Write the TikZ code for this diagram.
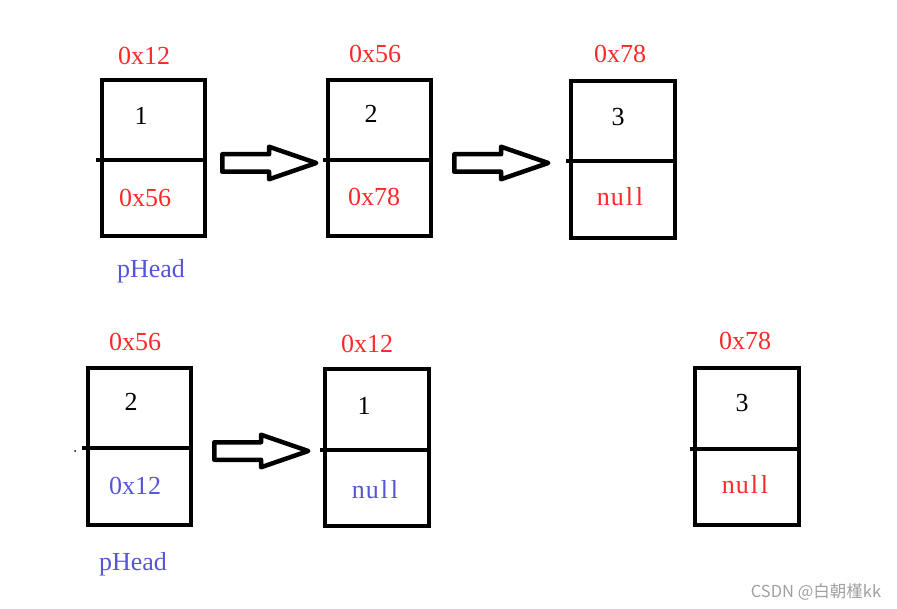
\documentclass[tikz,border=0pt]{standalone}
\usepackage{fontspec}
\setmainfont{Liberation Serif}
\newfontfamily\cjk{Noto Sans CJK SC}
\usetikzlibrary{shapes.arrows}
\definecolor{addrred}{RGB}{255,40,40}
\definecolor{headblue}{RGB}{85,85,215}
\definecolor{wmgray}{RGB}{160,160,160}
\begin{document}
\begin{tikzpicture}[x=1pt,y=-1pt,
  cell/.style={draw,line width=4.5pt,minimum width=#1,inner sep=0pt},
  txt/.style={anchor=base,inner sep=0pt,font=\fontsize{26}{26}\selectfont},
  addr/.style={txt,text=addrred},
  hd/.style={txt,text=headblue},
  blockarrow/.style={draw,line width=4.5pt,line join=round,single arrow,
    minimum height=94pt,minimum width=28pt,inner xsep=0pt,inner ysep=6.5pt,
    single arrow head extend=7.5pt,single arrow tip angle=38,anchor=tail}]
\useasboundingbox (0,0) rectangle (897,609);
% ---- top row ----
\node[cell=103pt,minimum height=156pt] (b1) at (153.5,158) {};
\node[cell=103pt,minimum height=156pt] (b2) at (379.5,158) {};
\node[cell=104pt,minimum height=157pt] (b3) at (623,159.5) {};
\draw[line width=4.5pt] ([xshift=-4pt]b1.west|-0,160) -- (b1.east|-0,160);
\draw[line width=4.5pt] ([xshift=-3pt]b2.west|-0,160) -- (b2.east|-0,160);
\draw[line width=4.5pt] ([xshift=-3pt]b3.west|-0,161) -- (b3.east|-0,161);
\node[addr] (a1) at (144,65) {0x12};
\node[txt] (v1) at (141,125) {1};
\node[addr] (n1) at (145,207) {0x56};
\node[hd] (h1) at (151,278) {pHead};
\node[addr] (a2) at (375,63) {0x56};
\node[txt] (v2) at (371,123) {2};
\node[addr] (n2) at (374,206) {0x78};
\node[addr] (a3) at (620,63) {0x78};
\node[txt] (v3) at (618,126) {3};
\node[addr] (n3) at (620,206) {n\kern1pt u\kern2pt l\kern3pt l};
\node[blockarrow] (r1) at (220,163) {};
\node[blockarrow] (r2) at (452,163) {};
% ---- bottom row ----
\node[cell=103pt,minimum height=157pt] (b4) at (139.5,446.5) {};
\node[cell=104pt,minimum height=157pt] (b5) at (377,447.5) {};
\node[cell=104pt,minimum height=157pt] (b6) at (747,446.5) {};
\draw[line width=4.5pt] ([xshift=-4pt]b4.west|-0,448) -- (b4.east|-0,448);
\draw[line width=4.5pt] ([xshift=-3pt]b5.west|-0,450) -- (b5.east|-0,450);
\draw[line width=4.5pt] ([xshift=-3pt]b6.west|-0,449) -- (b6.east|-0,449);
\fill (75,451) circle (1pt);
\node[addr] (a4) at (135,351) {0x56};
\node[txt] (v4) at (131,410) {2};
\node[hd] (n4) at (135,494) {0x12};
\node[hd] (h4) at (133,570) {pHead};
\node[addr] (a5) at (367,353) {0x12};
\node[txt] (v5) at (364,414) {1};
\node[hd] (n5) at (375,498) {n\kern1pt u\kern2pt l\kern3pt l};
\node[addr] (a6) at (745,350) {0x78};
\node[txt] (v6) at (742,412) {3};
\node[addr] (n6) at (745,493) {n\kern1pt u\kern2pt l\kern3pt l};
\node[blockarrow] (r3) at (212,451) {};
% watermark
\node[anchor=base,inner sep=0pt,text=wmgray,font=\cjk\fontsize{16.5}{16.5}\selectfont] (wm) at (816,597) {CSDN @白朝槿kk};
\end{tikzpicture}
\end{document}
